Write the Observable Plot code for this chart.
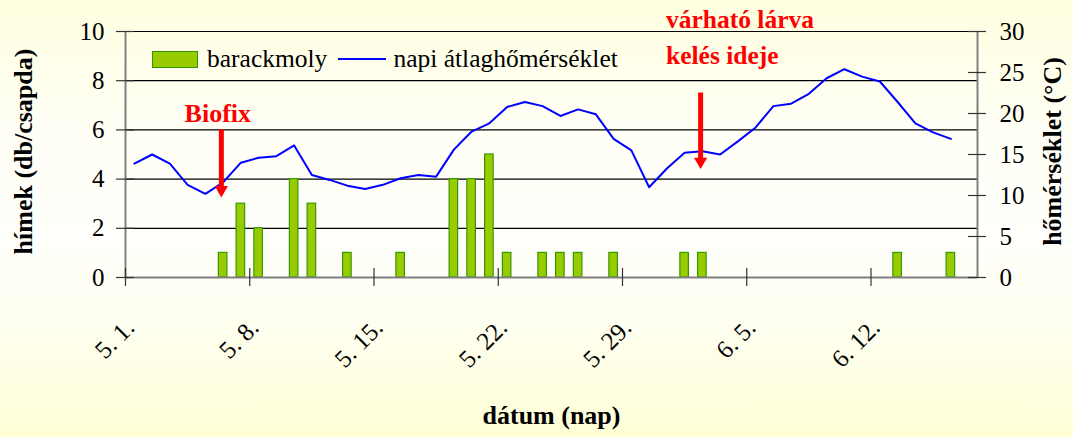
<!DOCTYPE html>
<html>
<head>
<meta charset="utf-8">
<script src="https://cdn.jsdelivr.net/npm/d3@7"></script>
<script src="https://cdn.jsdelivr.net/npm/@observablehq/plot@0.6"></script>
<style>
  html, body { margin: 0; padding: 0; }
  body {
    width: 1073px; height: 437px; overflow: hidden; position: relative;
    background: linear-gradient(to bottom, #FFFFE0 0%, #FFFFF6 30%, #FFFFFB 55%, #FFFFF0 75%, #FFFFD6 100%);
    font-family: "Liberation Serif", "Times New Roman", serif;
  }
  #chart { position: absolute; left: 0; top: 0; }
  #legend { position: absolute; left: 152px; top: 44px; display: flex; align-items: center; font-size: 25.5px; color: #000; white-space: nowrap; }
  .sw-bar { width: 44px; height: 15px; background: #99CC00; border: 1px solid #339900; margin-right: 9px; }
  .sw-line { width: 48px; height: 2px; background: #0000FF; margin: 0 7px 0 11px; }
</style>
</head>
<body>
<div id="chart"></div>
<div id="legend"><span class="sw-bar"></span><span>barackmoly</span><span class="sw-line"></span><span>napi átlaghőmérséklet</span></div>
<script>
// x categories: day index from 5. 1. (0) to 6. 17. (47)
const dayCount = 48;
const tickDays = [0, 7, 14, 21, 28, 35, 42];
const tickLabels = ["5. 1.", "5. 8.", "5. 15.", "5. 22.", "5. 29.", "6. 5.", "6. 12."];

// barackmoly catches (hímek db/csapda)
const barDays = [5, 6, 7, 9, 10, 12, 15, 18, 19, 20, 21, 23, 24, 25, 27, 31, 32, 43, 46];
const barCounts = [1, 3, 2, 4, 3, 1, 1, 4, 4, 5, 1, 1, 1, 1, 1, 1, 1, 1, 1];

// napi átlaghőmérséklet (°C), days 0..46
const temps = [13.9, 15.0, 13.9, 11.3, 10.2, 11.6, 14.0, 14.6, 14.8, 16.1,
  12.5, 11.9, 11.2, 10.8, 11.3, 12.1, 12.5, 12.3, 15.6, 17.8,
  18.8, 20.8, 21.4, 20.9, 19.7, 20.5, 19.9, 16.9, 15.5, 11.0,
  13.3, 15.2, 15.4, 15.0, 16.6, 18.3, 20.9, 21.2, 22.4, 24.3,
  25.4, 24.5, 23.9, 21.4, 18.8, 17.7, 16.9];

const leftTicks = [0, 2, 4, 6, 8, 10];
const rightTicks = [0, 5, 10, 15, 20, 25, 30];
const gridValues = [2, 4, 6, 8, 10];

// annotations (day position, arrow top / tip in left-axis units)
const arrowDays = [4.9, 31.9];
const arrowTops = [6.0, 7.5];
const arrowTips = [3.2, 4.35];
const biofixText = ["Biofix"];
const biofixDay = 4.7;
const biofixY = 6.67;
const larvaTexts = ["várható lárva", "kelés ideje"];
const larvaDay = 29.95;
const larvaYs = [10.49, 9.02];

const bars = barDays.map((d, i) => ({day: d, count: barCounts[i]}));
const tempData = temps.map((t, i) => ({day: i, t}));
const arrows = arrowDays.map((d, i) => ({day: d, top: arrowTops[i], tip: arrowTips[i]}));
const larva = larvaTexts.map((t, i) => ({text: t, y: larvaYs[i]}));
const labels = tickDays.map((d, i) => ({day: d, label: tickLabels[i]}));
const xBounds = d3.range(0, 7).map(k => -0.5 + 7 * k);
const ratio = 3; // right axis / left axis

const FONT = "Liberation Serif";
const plot = Plot.plot({
  width: 1073,
  height: 437,
  marginLeft: 125,
  marginRight: 96,
  marginTop: 31,
  marginBottom: 160,
  style: {background: "transparent", fontFamily: FONT, fontSize: "25px", color: "#000", overflow: "visible"},
  x: {type: "linear", domain: [-0.5, dayCount - 0.5], axis: null},
  y: {domain: [0, 10], axis: null},
  marks: [
    // gridlines
    Plot.ruleY(gridValues, {stroke: "#000", strokeWidth: 1.2}),
    // bars
    Plot.rectY(bars, {x1: d => d.day - 0.24, x2: d => d.day + 0.24, y1: 0, y2: "count", fill: "#99CC00", stroke: "#339900", strokeWidth: 1.2}),
    // axis lines
    Plot.ruleY([0], {stroke: "#808080", strokeWidth: 2}),
    Plot.ruleX([-0.5, dayCount - 0.5], {stroke: "#808080", strokeWidth: 2}),
    // left ticks (cross)
    Plot.ruleY(leftTicks, {y: d => d, x1: -0.5, x2: -0.5, insetLeft: -9, insetRight: -9, stroke: "#333", strokeWidth: 1.2}),
    // right ticks (cross)
    Plot.ruleY(rightTicks, {y: d => d / ratio, x1: dayCount - 0.5, x2: dayCount - 0.5, insetLeft: -9, insetRight: -9, stroke: "#333", strokeWidth: 1.2}),
    // x ticks (cross)
    Plot.ruleX(xBounds, {x: d => d, y1: 0, y2: 0, insetTop: -9, insetBottom: -9, stroke: "#333", strokeWidth: 1.2}),
    // left tick labels
    Plot.text(leftTicks, {x: -0.5, y: d => d, text: d => String(d), textAnchor: "end", dx: -21, fontSize: 25, fontFamily: FONT, fill: "#000"}),
    // right tick labels
    Plot.text(rightTicks, {x: dayCount - 0.5, y: d => d / ratio, text: d => String(d), textAnchor: "start", dx: 22, fontSize: 25, fontFamily: FONT, fill: "#000"}),
    // x tick labels
    Plot.text(labels, {x: "day", y: 0, text: "label", rotate: -45, textAnchor: "end", dx: -4, dy: 46, fontSize: 25, fontFamily: FONT, fill: "#000"}),
    // temperature line
    Plot.line(tempData, {x: "day", y: d => d.t / ratio, stroke: "#0000FF", strokeWidth: 2}),
    // arrows
    Plot.ruleX(arrows, {x: "day", y1: "top", y2: "tip", insetBottom: 12, stroke: "#FF0000", strokeWidth: 5}),
    Plot.dot(arrows, {x: "day", y: "tip", symbol: "triangle2", rotate: 180, r: 6.3, dy: -9, fill: "#FF0000", stroke: "none"}),
    // annotation texts
    Plot.text(biofixText, {x: biofixDay, y: biofixY, text: d => d, textAnchor: "middle", fontSize: 26, fontWeight: "bold", fontFamily: FONT, fill: "#FF0000"}),
    Plot.text(larva, {x: larvaDay, y: "y", text: "text", textAnchor: "start", fontSize: 25.5, fontWeight: "bold", fontFamily: FONT, fill: "#FF0000"}),
    // axis titles
    Plot.text(["hímek (db/csapda)"], {frameAnchor: "left", textAnchor: "middle", dx: -102, dy: -3, rotate: -90, fontSize: 26, fontWeight: "bold", fontFamily: FONT, fill: "#000"}),
    Plot.text(["hőmérséklet (°C)"], {frameAnchor: "right", textAnchor: "middle", dx: 75, dy: -3, rotate: -90, fontSize: 26, fontWeight: "bold", fontFamily: FONT, fill: "#000"}),
    Plot.text(["dátum (nap)"], {frameAnchor: "bottom", textAnchor: "middle", dx: 0, dy: 146, fontSize: 26, fontWeight: "bold", fontFamily: FONT, fill: "#000"})
  ]
});
document.getElementById("chart").appendChild(plot);
</script>
</body>
</html>
